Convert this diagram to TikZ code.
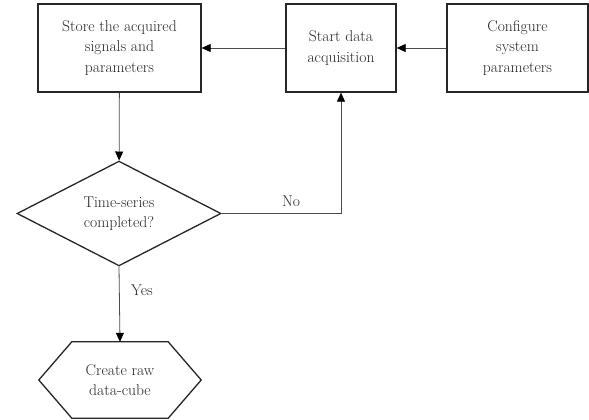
\documentclass[tikz,border=0pt]{standalone}
\usetikzlibrary{shapes.geometric,arrows.meta,calc}
\begin{document}
\begin{tikzpicture}[x=1pt,y=-1pt,
  txt/.style={font=\fontsize{15.6}{20.5}\selectfont, align=center, text=black!85},
  stepbox/.style={txt, draw=black!85, line width=1.3pt, inner sep=0pt},
  conn/.style={draw=black!70, line width=0.8pt, -{Triangle[length=9pt,width=8pt,fill=black,color=black]}},
  lbl/.style={txt}]
\useasboundingbox (0,0) rectangle (589,420);
\node[stepbox, minimum width=163pt, minimum height=88pt] (store) at (119.5,48) {Store the acquired\\signals and\\parameters};
\node[stepbox, minimum width=110pt, minimum height=88pt] (start) at (341,48) {Start data\\acquisition};
\node[stepbox, minimum width=141pt, minimum height=88pt] (config) at (517.5,48) {Configure\\system\\parameters};
\node[txt, diamond, draw=black!85, line width=1.3pt, inner sep=0pt, minimum width=204pt, minimum height=103pt] (dec) at (119,213.5) {Time-series\\completed?};
\node[txt, minimum width=162pt, minimum height=76pt, inner sep=0pt] (hex) at (120,380) {Create raw\\data-cube};
\draw[draw=black!85, line width=1.3pt] (hex.west) -- ($(hex.north west)+(33,0)$) -- ($(hex.north east)+(-33,0)$) -- (hex.east) -- ($(hex.south east)+(-33,0)$) -- ($(hex.south west)+(33,0)$) -- cycle;
\draw[conn] (config) -- (start);
\draw[conn] (start) -- (store);
\draw[conn] (store) -- (dec);
\draw[conn] (dec.east) -| (start.south);
\draw[conn] (dec.south) -- (hex.north);
\node[lbl] (no) at (291,201) {No};
\node[lbl] (yes) at (142,290) {Yes};
\end{tikzpicture}
\end{document}
